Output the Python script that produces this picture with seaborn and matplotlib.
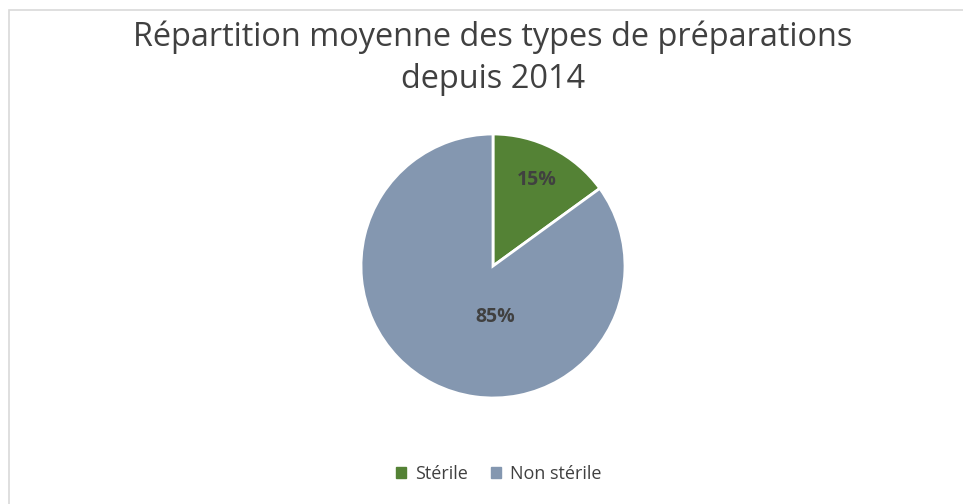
import matplotlib
matplotlib.use("Agg")
import matplotlib.pyplot as plt
import seaborn as sns
from matplotlib.patches import Rectangle

categories = ["Stérile", "Non stérile"]
values = [15, 85]
colors = ["#548235", "#8497B0"]
title = "Répartition moyenne des types de préparations\ndepuis 2014"

sns.set_theme(style="white")
plt.rcParams['font.family'] = ['Open Sans', 'DejaVu Sans']

W, H = 963, 504
fig = plt.figure(figsize=(W/100, H/100), dpi=100)
fig.patch.set_facecolor("white")

# border
fig.patches.append(Rectangle((9/W, -0.1), 2.0, (H-10)/H + 0.1, transform=fig.transFigure,
                             fill=False, edgecolor="#D9D9D9", linewidth=1.2))

cx, cy, r = 493, 266, 132
ax = fig.add_axes([(cx-r)/W, (H-cy-r)/H, 2*r/W, 2*r/H])
wedges, texts, autotexts = ax.pie(values, colors=colors, startangle=90, counterclock=False,
                                  autopct="%d%%", pctdistance=0.73,
                                  wedgeprops=dict(edgecolor="white", linewidth=2),
                                  textprops=dict(color="#404040", fontsize=14, fontweight="bold"))
# Excel-style placement of the large slice label
autotexts[1].set_position((0.015, -0.39))
ax.set_xlim(-1, 1)
ax.set_ylim(-1, 1)
ax.set_aspect("equal")

fig.text(493/W, 1 - 58/H, title, ha="center", va="center", fontsize=23.4, color="#404040",
         linespacing=1.35)

handles = [plt.Rectangle((0, 0), 1, 1, color=c) for c in colors]
fig.legend(handles, categories, loc="center", bbox_to_anchor=(499/W, 1 - 474/H), ncol=2,
           frameon=False, fontsize=13, handlelength=0.55, handleheight=0.55, handletextpad=0.5,
           columnspacing=1.3, labelcolor="#404040")

fig.savefig("out.png", dpi=100)
